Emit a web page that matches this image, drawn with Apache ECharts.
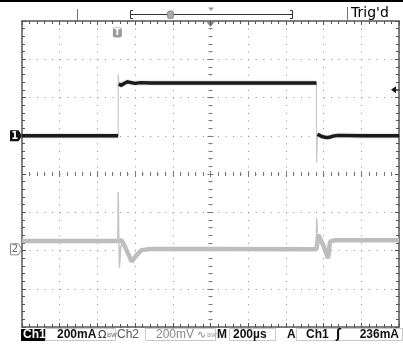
<!DOCTYPE html>
<html><head><meta charset="utf-8">
<script src="https://cdn.jsdelivr.net/npm/echarts@6/dist/echarts.min.js"></script>
<style>html,body{margin:0;padding:0;background:#fff}#c{width:403px;height:356px}</style>
</head><body><div id="c"></div>
<script>
// Screen units: horizontal in divisions (200 µs/div), vertical in divisions.
// Channel 1 (current, 200 mA/div)
const ch1Time  = [0, 2.55, 2.56, 2.57, 2.63, 2.72, 2.80, 2.90, 3.00, 3.15, 3.40, 4.00, 5.00, 6.00, 7.00, 7.81, 7.82, 7.84, 7.95, 8.08, 8.15, 8.25, 8.38, 9.00, 10.00];
const ch1Level = [1.00, 1.00, '-', 2.35, 2.32, 2.37, 2.41, 2.39, 2.37, 2.39, 2.38, 2.38, 2.38, 2.38, 2.38, 2.38, '-', 1.04, 0.98, 0.95, 0.96, 0.99, 1.01, 1.00, 1.00];
// Channel 1 fast edges (drawn faint)
const ch1EdgeTime  = [2.55, 2.553, 2.57, 2.60, 7.81, 7.815, 7.84];
const ch1EdgeLevel = [1.00, 2.61, 2.35, '-', 2.38, 0.30, 1.04];
// Channel 2 (voltage, 200 mV/div)
const ch2Time  = [0, 2.54, 2.64, 2.72, 2.80, 2.91, 3.04, 3.17, 3.40, 5.00, 7.81, 7.86, 7.99, 8.08, 8.12, 8.17, 8.30, 10.00];
const ch2Level = [-1.75, -1.75, -1.73, -1.88, -2.05, -2.29, -2.12, -1.99, -1.96, -1.96, -1.97, -1.59, -1.86, -2.10, -2.20, -1.77, -1.73, -1.73];
// Channel 2 spikes (thin)
const ch2SpikeTime  = [2.54, 2.552, 2.565, 2.585, 2.62, 2.66, 5.00, 7.81, 7.815, 7.835];
const ch2SpikeLevel = [-1.75, -0.47, -1.60, -2.45, -1.90, -1.78, '-', -1.97, -1.15, -1.55];
// Markers
const ch1Ground = 1.0;
const ch2Ground = -1.97;
const trigLevel = 2.2;
const trigTime = 2.53;
const expandPoint = 5;

const zip = (a, b) => a.map((v, i) => [v, b[i]]);

const chart = echarts.init(document.getElementById('c'), null, {renderer: 'canvas'});
const frameCol = '#555', dotCol = '#8a8a8a';
const hiddenAx = (gi, min, max) => ({gridIndex: gi, type: 'value', min, max, show: false});
const frameAx = (gi, pos, min, max, split, dash) => ({
  gridIndex: gi, type: 'value', position: pos, min, max, interval: 1,
  axisLine: {show: true, onZero: false, lineStyle: {color: frameCol, width: 1.5}},
  axisTick: {show: true, inside: true, length: 4, lineStyle: {color: frameCol}},
  minorTick: {show: true, splitNumber: 5, length: 3, lineStyle: {color: frameCol}},
  axisLabel: {show: false},
  splitLine: {show: split, lineStyle: {color: dotCol, width: 1, type: dash}},
  minorSplitLine: {show: false}
});
const centerAx = (gi, pos, min, max) => ({
  gridIndex: gi, type: 'value', position: pos, min, max, interval: 1,
  axisLine: {show: false, onZero: false},
  axisTick: {show: true, inside: true, length: 3, lineStyle: {color: '#777'}},
  minorTick: {show: true, splitNumber: 5, length: 2, lineStyle: {color: '#777'}},
  axisLabel: {show: false}, splitLine: {show: false}
});

const G = {left: 22, top: 21, width: 377, height: 306};
chart.setOption({
  animation: false,
  backgroundColor: '#fff',
  grid: [
    {left: G.left, top: G.top, width: G.width, height: G.height},
    {left: G.left, top: G.top, width: G.width, height: G.height / 2},
    {left: G.left, top: G.top + G.height / 2, width: G.width, height: G.height / 2},
    {left: G.left, top: G.top, width: G.width / 2, height: G.height},
    {left: G.left + G.width / 2, top: G.top, width: G.width / 2, height: G.height}
  ],
  xAxis: [
    frameAx(0, 'bottom', 0, 10, true, [1, 6.65]),
    frameAx(0, 'top', 0, 10, false),
    centerAx(1, 'bottom', 0, 10),
    centerAx(2, 'top', 0, 10),
    hiddenAx(3, 0, 5),
    hiddenAx(4, 5, 10)
  ],
  yAxis: [
    frameAx(0, 'left', -4, 4, true, [1, 6.54]),
    frameAx(0, 'right', -4, 4, false),
    hiddenAx(1, 0, 4),
    hiddenAx(2, -4, 0),
    centerAx(3, 'right', -4, 4),
    centerAx(4, 'left', -4, 4)
  ],
  series: [
    {type: 'line', name: 'Ch2', data: zip(ch2Time, ch2Level), showSymbol: false, xAxisIndex: 0, yAxisIndex: 0,
      lineStyle: {color: '#bdbdbd', width: 4.5}, z: 3},
    {type: 'line', name: 'Ch2 spike', data: zip(ch2SpikeTime, ch2SpikeLevel), showSymbol: false, xAxisIndex: 0, yAxisIndex: 0,
      lineStyle: {color: '#c4c4c4', width: 1.5}, z: 3},
    {type: 'line', name: 'Ch1 edge', data: zip(ch1EdgeTime, ch1EdgeLevel), showSymbol: false, xAxisIndex: 0, yAxisIndex: 0,
      lineStyle: {color: '#c8c8c8', width: 1.2}, z: 4},
    {type: 'line', name: 'Ch1', data: zip(ch1Time, ch1Level), showSymbol: false, xAxisIndex: 0, yAxisIndex: 0,
      lineStyle: {color: '#1a1a1a', width: 3.4, join: 'round', shadowColor: 'rgba(0,0,0,0.35)', shadowBlur: 2}, z: 5}
  ]
});

const px = (x, y) => chart.convertToPixel({xAxisIndex: 0, yAxisIndex: 0}, [x, y]);
const g = [];
// top bar
g.push({type: 'rect', shape: {x: 0, y: 0, width: 403, height: 2}, style: {fill: '#000'}});
g.push({type: 'line', shape: {x1: 77.5, y1: 9, x2: 77.5, y2: 21}, style: {stroke: '#777', lineWidth: 1}});
g.push({type: 'line', shape: {x1: 347.5, y1: 7, x2: 347.5, y2: 20}, style: {stroke: '#777', lineWidth: 1}});
g.push({type: 'polyline', shape: {points: [[133, 10.5], [130.5, 10.5], [130.5, 18.5], [133, 18.5]]}, style: {stroke: '#333', lineWidth: 1, fill: null}});
g.push({type: 'polyline', shape: {points: [[290, 10.5], [292.5, 10.5], [292.5, 18.5], [290, 18.5]]}, style: {stroke: '#333', lineWidth: 1, fill: null}});
g.push({type: 'line', shape: {x1: 130.5, y1: 14.5, x2: 292.5, y2: 14.5}, style: {stroke: '#333', lineWidth: 1}});
g.push({type: 'rect', shape: {x: 167.5, y: 11, width: 6, height: 7.5, r: 2}, style: {fill: '#aaa', stroke: '#888'}});
g.push({type: 'polygon', shape: {points: [[208, 7.5], [214, 7.5], [211, 11]]}, style: {fill: '#999'}});
g.push({type: 'text', x: 351, y: 13.5, style: {text: "Trig'd", font: '14px "DejaVu Sans"', fill: '#000', verticalAlign: 'middle'}});
// expansion point marker
const ep = px(expandPoint, 4);
g.push({type: 'polygon', shape: {points: [[ep[0] - 4, 22], [ep[0] + 4, 22], [ep[0], 27]]}, style: {fill: '#888'}});
// trigger time marker
const tp = px(trigTime, 4);
g.push({type: 'rect', shape: {x: tp[0] - 4.5, y: 27.5, width: 9, height: 10, r: 2}, style: {fill: '#9a9a9a'}});
g.push({type: 'text', x: tp[0], y: 32.8, style: {text: 'T', font: 'bold 9px "DejaVu Sans"', fill: '#fff', align: 'center', verticalAlign: 'middle'}});
// channel ground markers
const c1 = px(0, ch1Ground);
g.push({type: 'polygon', shape: {points: [[10, c1[1] - 5.5], [18.5, c1[1] - 5.5], [22, c1[1]], [18.5, c1[1] + 5.5], [10, c1[1] + 5.5]]}, style: {fill: '#111'}});
g.push({type: 'text', x: 14.8, y: c1[1] + 0.5, style: {text: '1', font: 'bold 10px "DejaVu Sans"', fill: '#fff', align: 'center', verticalAlign: 'middle'}});
const c2 = px(0, ch2Ground);
g.push({type: 'polygon', shape: {points: [[10.5, c2[1] - 5.5], [18.5, c2[1] - 5.5], [21.5, c2[1]], [18.5, c2[1] + 5.5], [10.5, c2[1] + 5.5]]}, style: {fill: '#fff', stroke: '#888', lineWidth: 1}});
g.push({type: 'text', x: 15, y: c2[1] + 0.5, style: {text: '2', font: '10px "DejaVu Sans"', fill: '#666', align: 'center', verticalAlign: 'middle'}});
// trigger level marker
const tl = px(10, trigLevel);
g.push({type: 'polygon', shape: {points: [[tl[0] - 8, tl[1]], [tl[0] - 3, tl[1] - 3.5], [tl[0] - 3, tl[1] + 3.5]]}, style: {fill: '#111'}});
g.push({type: 'line', shape: {x1: tl[0] - 4, y1: tl[1], x2: tl[0] + 1, y2: tl[1]}, style: {stroke: '#111', lineWidth: 1}});
// status bar
const sy = 335, f = 'bold 12px "Liberation Sans"';
const box = (x, w) => ({type: 'rect', shape: {x: x + 0.5, y: 328.5, width: w, height: 12}, style: {fill: null, stroke: '#c8c8c8', lineWidth: 1}});
g.push(box(45, 70));
g.push(box(145, 70));
g.push(box(229, 46));
g.push(box(296, 106));
g.push({type: 'rect', shape: {x: 21, y: 329, width: 24, height: 12}, style: {fill: '#000'}});
g.push({type: 'text', x: 23, y: sy, style: {text: 'Ch1', font: f, fill: '#fff', verticalAlign: 'middle'}});
g.push({type: 'text', x: 57, y: sy, style: {text: '200mA', font: f, fill: '#111', verticalAlign: 'middle'}});
g.push({type: 'text', x: 98, y: sy, style: {text: 'Ω', font: '11px "DejaVu Sans"', fill: '#333', verticalAlign: 'middle'}});
g.push({type: 'text', x: 107, y: sy, style: {text: 'BW', font: '6px "DejaVu Sans"', fill: '#666', verticalAlign: 'middle'}});
g.push({type: 'text', x: 117, y: sy, style: {text: 'Ch2', font: '12px "Liberation Sans"', fill: '#555', verticalAlign: 'middle'}});
g.push({type: 'text', x: 156, y: sy, style: {text: '200mV', font: '12px "Liberation Sans"', fill: '#888', verticalAlign: 'middle'}});
g.push({type: 'text', x: 197, y: sy, style: {text: '∿', font: '11px "DejaVu Sans"', fill: '#888', verticalAlign: 'middle'}});
g.push({type: 'text', x: 207, y: sy, style: {text: 'BW', font: '6px "DejaVu Sans"', fill: '#999', verticalAlign: 'middle'}});
g.push({type: 'text', x: 217, y: sy, style: {text: 'M', font: f, fill: '#111', verticalAlign: 'middle'}});
g.push({type: 'text', x: 233, y: sy, style: {text: '200µs', font: f, fill: '#111', verticalAlign: 'middle'}});
g.push({type: 'text', x: 287, y: sy, style: {text: 'A', font: f, fill: '#111', verticalAlign: 'middle'}});
g.push({type: 'text', x: 306, y: sy, style: {text: 'Ch1', font: f, fill: '#111', verticalAlign: 'middle'}});
g.push({type: 'text', x: 336, y: sy, style: {text: 'ʃ', font: 'bold 12px "DejaVu Sans"', fill: '#111', verticalAlign: 'middle'}});
g.push({type: 'text', x: 399, y: sy, style: {text: '236mA', font: f, fill: '#111', align: 'right', verticalAlign: 'middle'}});
chart.setOption({graphic: g});
</script></body></html>
